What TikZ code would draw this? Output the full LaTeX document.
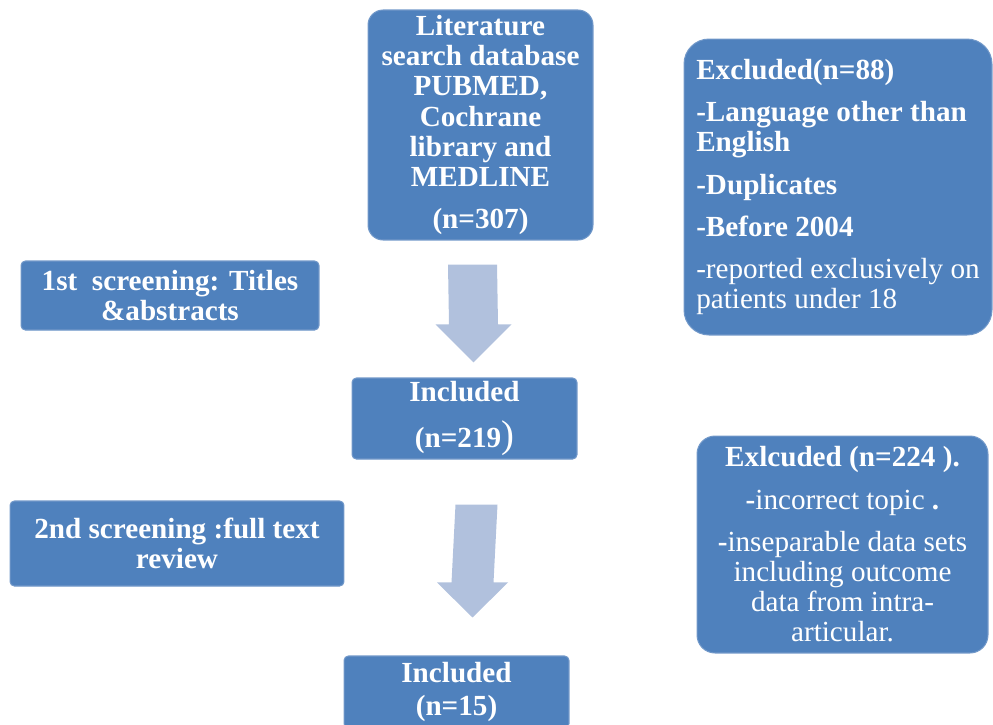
\documentclass[tikz,border=0pt]{standalone}
\usepackage{fontspec}
\setmainfont{Liberation Serif}
\usetikzlibrary{positioning,calc}
\definecolor{boxblue}{HTML}{4F81BD}
\definecolor{boxedge}{HTML}{7198C9}
\definecolor{arrowblue}{HTML}{B1C1DD}
\tikzset{
  stagebox/.style  = {rounded corners=2.5pt, draw=boxedge, line width=0.6pt, fill=boxblue,
                      text=white, align=center, inner sep=0pt,
                      font=\fontsize{16.6}{17.2}\selectfont\bfseries},
  roundbox/.style  = {stagebox, rounded corners=#1},
  bigarrow/.style  = {fill=arrowblue},
}

\begin{document}
\begin{tikzpicture}[x=0.02cm,y=-0.02cm]
    \useasboundingbox (0,0) rectangle (993,724);
    % main column
    \node[roundbox=0.3cm,minimum width=4.5cm,minimum height=4.6cm] (lit) at (480.5,125)
      {Literature\\search database\\PUBMED,\\Cochrane\\library and\\MEDLINE\\[0.24cm](n=307)};
    \node[stagebox,minimum width=4.5cm,minimum height=1.62cm] (inca) at (464.5,418.5)
      {Included\\[0.3cm](n=219{\mdseries\fontsize{22}{22}\selectfont)}};
    \node[stagebox,minimum width=4.5cm,minimum height=1.44cm] (incb) at (456.5,692)
      {Included\\[0.05cm](n=15)};
    % screening stages
    \node[stagebox,minimum width=5.96cm,minimum height=1.38cm] (scra) at (170,295.5)
      {1st~~screening: Titles\\\&abstracts};
    \node[stagebox,minimum width=6.68cm,minimum height=1.7cm] (scrb) at (177,543.5)
      {2nd screening :full text\\review};
    % exclusions
    \node[roundbox=0.5cm,align=left,minimum width=6.16cm,minimum height=5.92cm] (exa) at (838,187)
      {Excluded(n=88)\\[0.24cm]-Language other than\\English\\[0.24cm]-Duplicates\\[0.24cm]-Before 2004\\[0.24cm]{\mdseries -reported exclusively on}\\{\mdseries patients under 18}};
    \node[roundbox=0.36cm,minimum width=5.82cm,minimum height=4.34cm] (exb) at (842.5,544.5)
      {Exlcuded (n=224 ).\\[0.24cm]{\mdseries\textbf{-}incorrect topic \textbf{.}}\\[0.24cm]{\mdseries\textbf{-}inseparable data sets}\\{\mdseries including outcome}\\{\mdseries data from intra-}\\{\mdseries articular.}};
    % block arrows
    \coordinate (fa) at ($(lit.south)+(-8,24)$);
    \coordinate (ta) at ($(inca.north)+(9,-15)$);
    \fill[bigarrow] ($(fa)+(-24.5,0)$) -- ($(fa)+(24.5,0)$) -- ($(ta)+(24.5,-38)$) -- ($(ta)+(38,-38)$)
      -- (ta) -- ($(ta)+(-38,-38)$) -- ($(ta)+(-24.5,-38)$) -- cycle;
    \coordinate (fb) at ($(inca.south)+(12,45)$);
    \coordinate (tb) at ($(incb.north)+(16,-38)$);
    \fill[bigarrow] ($(fb)+(-21,0)$) -- ($(fb)+(21,0)$) -- ($(tb)+(21,-35)$) -- ($(tb)+(35.5,-35)$)
      -- (tb) -- ($(tb)+(-35.5,-35)$) -- ($(tb)+(-21,-35)$) -- cycle;
\end{tikzpicture}
\end{document}
